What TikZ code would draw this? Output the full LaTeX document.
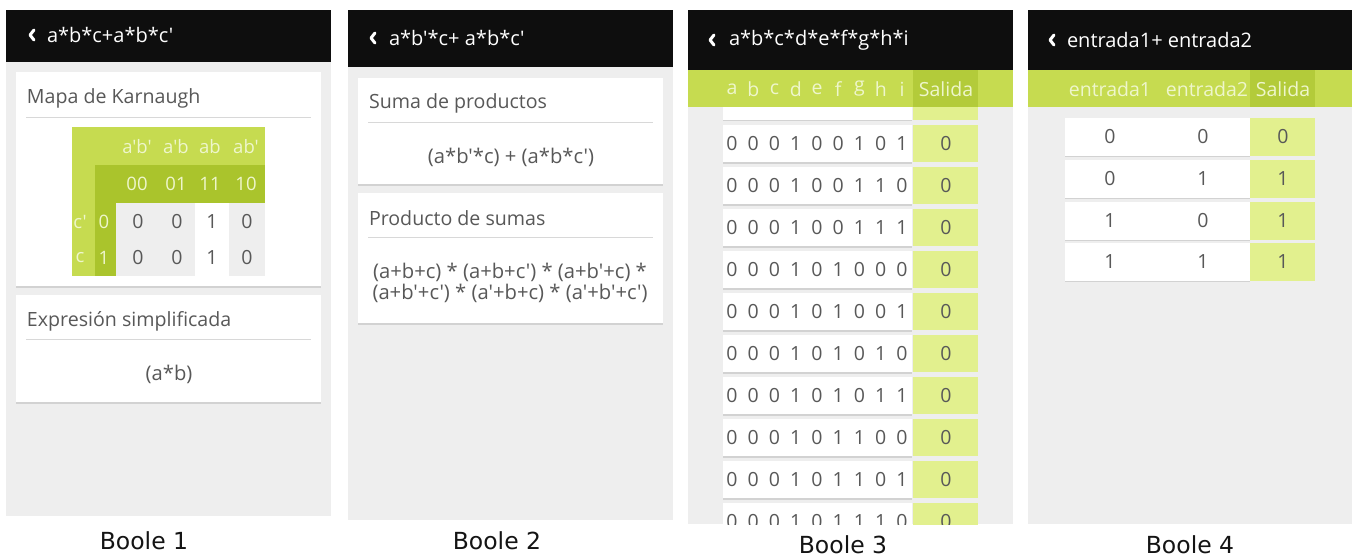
\documentclass[tikz,border=0pt]{standalone}
\usepackage{fontspec}
\setmainfont{Open Sans}[Ligatures=TeXOff]
\newfontfamily\capfont{DejaVu Sans}
\definecolor{bgpanel}{HTML}{EEEEEE}
\definecolor{hdr}{HTML}{0E0E0E}
\definecolor{lgreen}{HTML}{C6DB50}
\definecolor{dgreen}{HTML}{AAC42C}
\definecolor{sgreen}{HTML}{B3CB3A}
\definecolor{pgreen}{HTML}{E2F08E}
\definecolor{txt}{HTML}{585858}
\definecolor{gtxt}{HTML}{EEF6CC}
\definecolor{divc}{HTML}{D8D8D8}
\definecolor{shad}{HTML}{D2D2D2}
\begin{document}
\begin{tikzpicture}[x=1pt,y=-1pt,
  every node/.style={inner sep=0pt,outer sep=0pt},
  hdrtxt/.style={text=white,font=\fontsize{20}{24}\selectfont,anchor=west},
  ctitle/.style={text=txt,font=\fontsize{19.6}{23}\selectfont,anchor=west},
  body/.style={text=txt,font=\fontsize{20.2}{24}\selectfont},
  digit/.style={text=txt,font=\fontsize{19.5}{23}\selectfont},
  glabel/.style={text=gtxt,font=\fontsize{19.5}{23}\selectfont},
  klabel/.style={text=gtxt,font=\fontsize{18.5}{22}\selectfont},
  captxt/.style={font=\capfont\fontsize{23.5}{28}\selectfont,text=black!92},
  chev/.style={white,line width=3pt,line cap=round,line join=round},
  divline/.style={divc,line width=0.8pt},
  cardshadow/.style={fill=shad},
]
\useasboundingbox (0,0) rectangle (1357,558);
\fill[white] (0,0) rectangle (1357,558);

% ================= Panel 1 =================
\fill[bgpanel] (6,10) rectangle (331,516);
\fill[hdr] (6,10) rectangle (331,62);
\draw[chev] (34,30) -- (30,35) -- (34,40);
\node[hdrtxt] (h1) at (47,35) {a*b*c+a*b*c'};
% card 1
\fill[cardshadow] (16,73.5) rectangle (321,288);
\fill[white] (16,72) rectangle (321,286);
\node[ctitle] (t1) at (27,98) {Mapa de Karnaugh};
\coordinate (d1a) at (26,117); \coordinate (d1b) at (311,117);
\draw[divline] (d1a) -- (d1b);
% karnaugh
\fill[lgreen] (72,127) rectangle (265,276);
\fill[dgreen] (95,165) rectangle (265,276);
\fill[bgpanel] (116,203) rectangle (195,276);
\fill[white] (195,203) rectangle (229,276);
\fill[bgpanel] (229,203) rectangle (265,276);
\foreach \lab/\x [count=\i] in {a'b'/137,a'b/176,ab/210,ab'/246}
  \node[klabel] (kh\i) at (\x,147) {\lab};
\foreach \lab/\x [count=\i] in {00/137,01/176,11/210,10/246}
  \node[klabel] (kc\i) at (\x,184) {\lab};
\node[klabel] (kr1) at (80,222) {c'};
\node[klabel] (kr2) at (80,258) {c};
\node[klabel] (kb1) at (104,222) {0};
\node[klabel] (kb2) at (104,258) {1};
\foreach \v/\x [count=\i] in {0/138,0/177,1/212,0/247}{
  \node[digit] (ka\i) at (\x,222) {\v};
  \node[digit] (kd\i) at (\x,258) {\v};
}
% card 2
\fill[cardshadow] (16,296.5) rectangle (321,404);
\fill[white] (16,295) rectangle (321,402);
\node[ctitle] (t2) at (27,321) {Expresión simplificada};
\coordinate (d2a) at (26,339); \coordinate (d2b) at (311,339);
\draw[divline] (d2a) -- (d2b);
\node[body] (e1) at (169,374) {(a*b)};
\node[captxt] (c1) at (144,541) {Boole 1};

% ================= Panel 2 =================
\fill[bgpanel] (348,10) rectangle (673,520);
\fill[hdr] (348,10) rectangle (673,67);
\draw[chev] (375,33) -- (371,38) -- (375,43);
\node[hdrtxt] (h2) at (389,38) {a*b'*c+ a*b*c'};
\fill[cardshadow] (358,79.5) rectangle (663,186);
\fill[white] (358,78) rectangle (663,184);
\node[ctitle] (t3) at (369,103) {Suma de productos};
\coordinate (d3a) at (368,122); \coordinate (d3b) at (653,122);
\draw[divline] (d3a) -- (d3b);
\node[body] (e2) at (511,157) {(a*b'*c) + (a*b*c')};
\fill[cardshadow] (358,194.5) rectangle (663,325);
\fill[white] (358,193) rectangle (663,323);
\node[ctitle] (t4) at (369,218) {Producto de sumas};
\coordinate (d4a) at (368,237); \coordinate (d4b) at (653,237);
\draw[divline] (d4a) -- (d4b);
\node[body] (e3) at (510,272) {(a+b+c) * (a+b+c') * (a+b'+c) *};
\node[body] (e4) at (510,293) {(a+b'+c') * (a'+b+c) * (a'+b'+c')};
\node[captxt] (c2) at (497,541) {Boole 2};

% ================= Panel 3 =================
\fill[bgpanel] (688,10) rectangle (1013,524);
\begin{scope}
\clip (688,107) rectangle (1013,524);
\fill[shad] (723,107) rectangle (912,121);
\fill[white] (723,107) rectangle (912,120);
\fill[pgreen] (913,107) rectangle (978,120);
\foreach \bits [count=\k] in {{0,0,0,1,0,0,1,0,1},{0,0,0,1,0,0,1,1,0},{0,0,0,1,0,0,1,1,1},{0,0,0,1,0,1,0,0,0},{0,0,0,1,0,1,0,0,1},{0,0,0,1,0,1,0,1,0},{0,0,0,1,0,1,0,1,1},{0,0,0,1,0,1,1,0,0},{0,0,0,1,0,1,1,0,1},{0,0,0,1,0,1,1,1,0}}{
  \pgfmathsetmacro{\yt}{125+(\k-1)*42}
  \pgfmathsetmacro{\yc}{\yt+18.5}
  \fill[shad] (723,\yt+1.5) rectangle (912,\yt+38.5);
  \fill[white] (723,\yt) rectangle (912,\yt+37);
  \fill[pgreen] (913,\yt) rectangle (978,\yt+37);
  \foreach \b [count=\j] in \bits
    \node[digit] (p3r\k-\j) at ({732+(\j-1)*21.25},\yc) {\b};
  \node[digit] (p3s\k) at (946,\yc) {0};
}
\end{scope}
\fill[hdr] (688,10) rectangle (1013,70);
\fill[lgreen] (688,70) rectangle (1013,107);
\fill[sgreen] (913,70) rectangle (978,107);
\draw[chev] (714,35) -- (710,40) -- (714,45);
\node[hdrtxt] (h3) at (729,40) {a*b*c*d*e*f*g*h*i};
\foreach \lab [count=\j] in {a,b,c,d,e,f,g,h,i}
  \node[glabel] (p3h\j) at ({732+(\j-1)*21.25},89) {\lab};
\node[glabel] (p3hs) at (946,89) {Salida};
\node[captxt] (c3) at (843,545) {Boole 3};

% ================= Panel 4 =================
\fill[bgpanel] (1028,10) rectangle (1352,524);
\fill[hdr] (1028,10) rectangle (1352,70);
\fill[lgreen] (1028,70) rectangle (1352,107);
\fill[sgreen] (1250,70) rectangle (1315,107);
\draw[chev] (1054,35) -- (1050,40) -- (1054,45);
\node[hdrtxt] (h4) at (1067,40) {entrada1+ entrada2};
\node[glabel] (p4h1) at (1110,89) {entrada1};
\node[glabel] (p4h2) at (1207,89) {entrada2};
\node[glabel] (p4h3) at (1283,89) {Salida};
\foreach \a/\b/\s/\yt [count=\k] in {0/0/0/118,0/1/1/160,1/0/1/202,1/1/1/243}{
  \fill[shad] (1065,\yt+1.5) rectangle (1250,\yt+39);
  \fill[white] (1065,\yt) rectangle (1250,\yt+37.5);
  \fill[pgreen] (1250,\yt) rectangle (1315,\yt+37.5);
  \node[digit] (p4a\k) at (1110,\yt+19) {\a};
  \node[digit] (p4b\k) at (1203,\yt+19) {\b};
  \node[digit] (p4s\k) at (1283,\yt+19) {\s};
}
\node[captxt] (c4) at (1190,545) {Boole 4};
\end{tikzpicture}
\end{document}
